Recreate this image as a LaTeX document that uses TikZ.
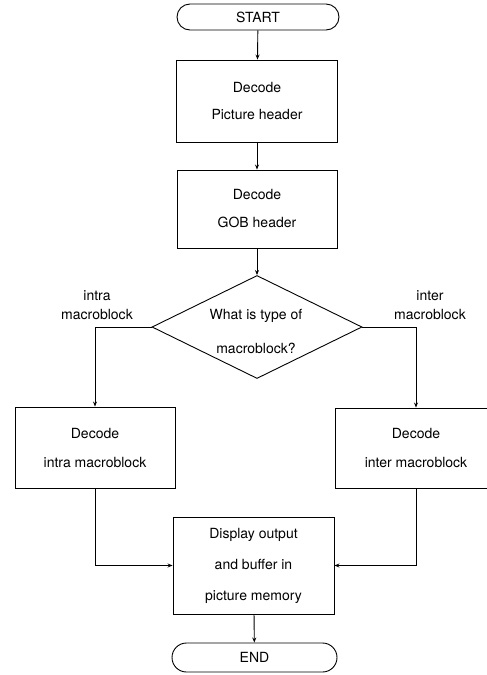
\documentclass[tikz,border=0pt]{standalone}
\usepackage{fontspec}
\setmainfont{TeX Gyre Heros}
\usetikzlibrary{shapes.geometric,shapes.misc,arrows.meta}
\begin{document}
\begin{tikzpicture}[x=1pt,y=-1pt,
  line/.style={line width=0.9pt,draw=black},
  arr/.style={line,-{Stealth[length=5pt,width=4pt]}},
  procbox/.style={line,rectangle,align=center,inner sep=0pt},
  termbox/.style={line,rounded rectangle,inner sep=0pt,font=\fontsize{14}{14}\selectfont},
  lbl/.style={align=center,inner sep=0pt,font=\fontsize{14}{19}\selectfont}]
\clip (0,0) rectangle (487,675);
\fill[white] (0,0) rectangle (487,675);

\node[termbox,minimum width=162pt,minimum height=26pt] (start) at (258,17) {START};
\node[procbox,minimum width=161pt,minimum height=82pt,font=\fontsize{14}{27}\selectfont] (pic) at (257,101) {Decode\\Picture header};
\node[procbox,minimum width=160pt,minimum height=78pt,font=\fontsize{14}{28}\selectfont] (gob) at (257,209) {Decode\\GOB header};
\node[line,diamond,minimum width=210pt,minimum height=103pt,inner sep=0pt] (dec) at (257,327) {};
\node[align=center,inner sep=0pt,font=\fontsize{14}{34}\selectfont] (dectext) at (256,331) {What is type of\\macroblock?};
\node[lbl] (lintra) at (97,305) {intra\\macroblock};
\node[lbl] (linter) at (430,305) {inter\\macroblock};
\node[procbox,minimum width=160pt,minimum height=81pt,font=\fontsize{14}{29}\selectfont] (intra) at (95,447.5) {Decode\\intra macroblock};
\node[procbox,minimum width=162pt,minimum height=80pt,font=\fontsize{14}{29}\selectfont] (inter) at (416,448) {Decode\\inter macroblock};
\node[procbox,minimum width=161pt,minimum height=97pt,font=\fontsize{14}{31}\selectfont] (disp) at (253.5,565.5) {Display output\\and buffer in\\picture memory};
\node[termbox,minimum width=165pt,minimum height=29pt] (end) at (254.5,657.5) {END};

\draw[arr] (start) -- (pic);
\draw[arr] (pic) -- (gob);
\draw[arr] (gob) -- (dec.north);
\draw[arr] (dec.west) -| (intra.north);
\draw[arr] (dec.east) -| (inter.north);
\draw[arr] (intra.south) |- (disp.west);
\draw[arr] (inter.south) |- (disp.east);
\draw[arr] (disp) -- (end);
\end{tikzpicture}
\end{document}
